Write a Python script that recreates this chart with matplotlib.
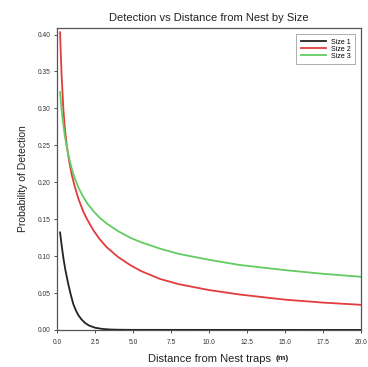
import numpy as np
import matplotlib
matplotlib.use("Agg")
import matplotlib.pyplot as plt

plt.rcParams['font.family'] = ['Liberation Sans', 'DejaVu Sans']

# values
dist_1 = [0.2, 0.3, 0.42, 0.55, 0.75, 0.9, 1.07, 1.25, 1.4, 1.6, 1.84, 2.1, 2.5, 3.0, 3.5,
          4.0, 5.0, 20.0]
size_1 = [0.132, 0.115, 0.097, 0.081, 0.061, 0.048, 0.035, 0.026, 0.020, 0.0145, 0.0095,
          0.006, 0.003, 0.0013, 0.0006, 0.0003, 0.0001, 0.0]

dist_2 = [0.2, 0.25, 0.3, 0.42, 0.52, 0.64, 0.8, 0.97, 1.14, 1.4, 1.73, 2.0, 2.39, 2.8, 3.27,
          4.0, 4.8, 5.5, 6.78, 8.0, 10.0, 12.0, 15.0, 17.5, 20.0]
size_2 = [0.403, 0.372, 0.345, 0.298, 0.272, 0.250, 0.228, 0.210, 0.196, 0.178, 0.160, 0.149,
          0.135, 0.123, 0.112, 0.099, 0.088, 0.080, 0.069, 0.062, 0.054, 0.048, 0.041, 0.037,
          0.034]

dist_3 = [0.2, 0.3, 0.42, 0.52, 0.64, 0.8, 0.97, 1.14, 1.4, 1.73, 2.0, 2.39, 2.8, 3.27, 4.0,
          4.8, 5.5, 6.78, 8.0, 10.0, 12.0, 15.0, 17.5, 20.0]
size_3 = [0.322, 0.298, 0.277, 0.262, 0.248, 0.232, 0.218, 0.207, 0.193, 0.180, 0.171, 0.161,
          0.152, 0.144, 0.134, 0.125, 0.119, 0.110, 0.103, 0.095, 0.088, 0.081, 0.076, 0.072]

x_ticks = [0.0, 2.5, 5.0, 7.5, 10.0, 12.5, 15.0, 17.5, 20.0]
y_ticks = [0.00, 0.05, 0.10, 0.15, 0.20, 0.25, 0.30, 0.35, 0.40]

fig = plt.figure(figsize=(3.68, 3.67), dpi=100)
ax = fig.add_axes([0.155, 0.101, 0.826, 0.823])

ax.plot(dist_1, size_1, color='#222222', lw=1.3, label='Size 1')
ax.plot(dist_2, size_2, color='#e23c3c', lw=1.3, label='Size 2')
ax.plot(dist_3, size_3, color='#62cc62', lw=1.3, label='Size 3')

ax.set_xlim(0, 20)
ax.set_ylim(0, 0.409)
ax.set_xticks(x_ticks)
ax.set_xticklabels([f"{v:.1f}" for v in x_ticks])
ax.set_yticks(y_ticks)
ax.set_yticklabels([f"{v:.2f}" for v in y_ticks])
ax.tick_params(labelsize=4.8, length=2.5, width=0.6, colors='#333333')
ax.tick_params(axis='x', pad=4)
ax.tick_params(axis='y', pad=2)
for sp in ax.spines.values():
    sp.set_color('#555555')
    sp.set_linewidth(0.9)

ax.set_title("Detection vs Distance from Nest by Size", fontsize=8, pad=5, color='#222222')
ax.set_ylabel("Probability of Detection", fontsize=7.5, color='#222222', labelpad=7)
fig.text(0.402, 0.023, "Distance from Nest traps", fontsize=8, ha='left', va='center',
         color='#222222')
fig.text(0.748, 0.023, "(m)", fontsize=6, ha='left', va='center', color='#222222',
         weight='bold')

leg = ax.legend(loc='upper right', fontsize=5, handlelength=3.6, handletextpad=0.8,
                borderpad=0.65, labelspacing=0.0, fancybox=False,
                bbox_to_anchor=(0.993, 0.99))
leg.get_frame().set_edgecolor('#888888')
leg.get_frame().set_linewidth(0.6)

fig.savefig("out.png", dpi=100)
